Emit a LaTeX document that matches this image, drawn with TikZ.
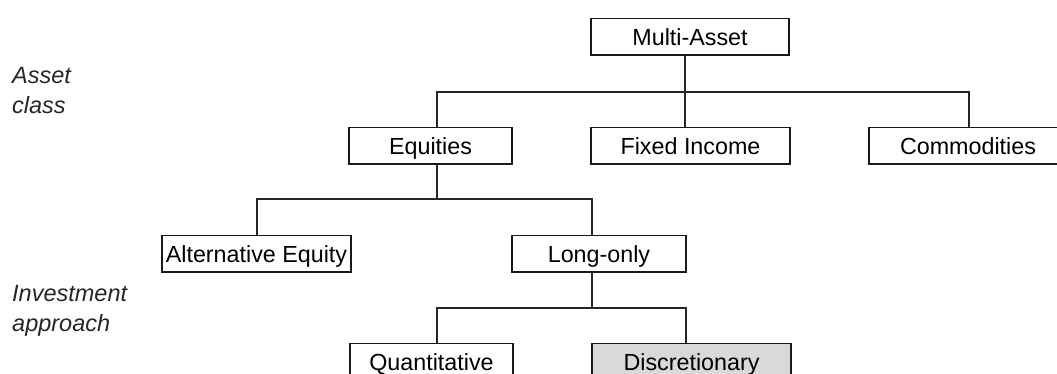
\documentclass[tikz,border=0pt]{standalone}
\usepackage{fontspec}
\setmainfont{Liberation Sans}
\begin{document}
\begin{tikzpicture}[x=1pt,y=-1pt,
  boxnode/.style={draw=black!90, line width=1.5pt, inner sep=0pt,
    minimum height=36.5pt, text height=17pt, text depth=0pt,
    font=\fontsize{23.3}{28}\selectfont},
  levellabel/.style={anchor=base west, inner sep=0pt,
    font=\fontsize{23.5}{28}\selectfont\itshape, text=black!85},
  conn/.style={draw=black!85, line width=1.5pt}]
\useasboundingbox (0,0) rectangle (1057,374);
\clip (0,0) rectangle (1057,374);
% level labels
\node[levellabel] (lab1) at (12,84) {Asset};
\node[levellabel] (lab2) at (12,114) {class};
\node[levellabel] (lab3) at (12,301) {Investment};
\node[levellabel] (lab4) at (12,331) {approach};
% boxes
\node[boxnode, minimum width=198pt] (ma) at (690,37) {Multi-Asset};
\node[boxnode, minimum width=163pt] (eq) at (430.5,146) {Equities};
\node[boxnode, minimum width=199pt] (fi) at (690.5,146) {Fixed Income};
\node[boxnode, minimum width=198pt] (co) at (968,146) {Commodities};
\node[boxnode, minimum width=189pt] (ae) at (256.5,253.5) {Alternative Equity};
\node[boxnode, minimum width=174pt] (lo) at (599,253.5) {Long-only};
\node[boxnode, minimum width=163pt] (qu) at (431.5,361.5) {Quantitative};
\node[boxnode, minimum width=199pt, fill=black!15] (di) at (691.5,361.5) {Discretionary};
% junctions
\coordinate (j1) at (685,92);
\coordinate (j2) at (437,199);
\coordinate (j3) at (592,308);
% level 1
\draw[conn] ([xshift=-5pt]ma.south) -- (j1);
\draw[conn] (j1) -- ([xshift=-5.5pt]fi.north);
\draw[conn] ([xshift=6.5pt]eq.north) |- (j1) -| ([xshift=1pt]co.north);
% level 2
\draw[conn] ([xshift=6.5pt]eq.south) -- (j2);
\draw[conn] ([xshift=0.5pt]ae.north) |- (j2) -| ([xshift=-7pt]lo.north);
% level 3
\draw[conn] ([xshift=-7pt]lo.south) -- (j3);
\draw[conn] ([xshift=5.5pt]qu.north) |- (j3) -| ([xshift=-5.5pt]di.north);
\end{tikzpicture}
\end{document}
